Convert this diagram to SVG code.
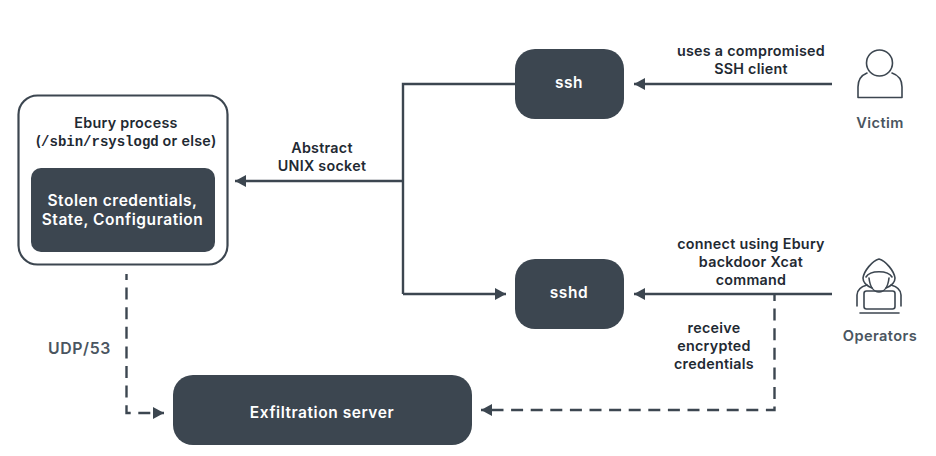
<svg xmlns="http://www.w3.org/2000/svg" width="936" height="456" viewBox="0 0 936 456">
<style>
text{font-family:"Inter","Noto Sans","Liberation Sans",sans-serif;font-weight:600;font-size:14.300px;letter-spacing:.28px;fill:#1f2a33;text-anchor:middle}
.box{fill:#3c4650}
.w{fill:#fff;font-size:15.500px;letter-spacing:.55px}
.g{fill:#4a5560;font-size:14.600px;letter-spacing:.4px}
.u{fill:#4a5560;font-size:15.800px;letter-spacing:.65px}
.m{font-family:"Liberation Mono",monospace;font-weight:700;font-size:14px;letter-spacing:0}
.c{fill:none;stroke:#3c4650;stroke-width:2.400}
.d{stroke-dasharray:12 7.600;stroke-dashoffset:6}
.i{fill:none;stroke:#3c4650;stroke-width:1.600;stroke-linejoin:round;stroke-linecap:round}
</style>
<defs>
<marker id="a" markerUnits="userSpaceOnUse" markerWidth="12" markerHeight="14" refX="11" refY="6" orient="auto"><path d="M0 0L11 6L0 12Z" fill="#3c4650"/></marker>
</defs>
<rect width="936" height="456" fill="#fff"/>
<g id="connectors">
<path class="c" marker-end="url(#a)" d="M832 84H634"/>
<path class="c" d="M515 84H403V294"/>
<path class="c" marker-end="url(#a)" d="M403 181H235"/>
<path class="c" marker-end="url(#a)" d="M403 294H506"/>
<path class="c" marker-end="url(#a)" d="M832 294H634"/>
<path class="c d" marker-end="url(#a)" d="M774.500 295V410H481"/>
<path class="c d" marker-end="url(#a)" d="M126.500 274V413H164"/>
</g>
<g id="ebury">
<rect x="18.500" y="95.500" width="209" height="169" rx="19" fill="#fff" stroke="#3c4650" stroke-width="2.200"/>
<text x="126" y="128">Ebury process</text>
<text x="126" y="145.500"><tspan>(</tspan><tspan class="m">/sbin/rsyslogd</tspan><tspan> or else)</tspan></text>
</g>
<g id="store">
<rect x="31" y="168" width="184" height="84" rx="10" class="box"/>
<text class="w"><tspan x="122.500" y="206">Stolen credentials,</tspan><tspan x="122.500" y="225">State, Configuration</tspan></text>
</g>
<g id="ssh"><rect x="515" y="49" width="109" height="70" rx="20" class="box"/><text class="w" x="569" y="88">ssh</text></g>
<g id="sshd"><rect x="515" y="259" width="109" height="70" rx="20" class="box"/><text class="w" x="569" y="298">sshd</text></g>
<g id="exfil"><rect x="173" y="375" width="299" height="70" rx="20" class="box"/><text class="w" x="322" y="418">Exfiltration server</text></g>
<g id="victim">
<circle cx="879.500" cy="63" r="13" class="i"/>
<path class="i" d="M867 73C862 75 858 80 858 87V97.500H902V87C902 80 898 75 892 73"/>
<text class="g" x="880" y="128">Victim</text>
</g>
<g id="operators">
<path class="i" d="M872 288C867 286 863 283 863 278C864 271 872 261 879 259C886 261 894 271 895 278C895 283 891 286 886 288"/>
<path class="i" d="M866 277C870 270 888 270 892 277M869 278C870 287 874 292 879 292C884 292 888 287 889 278"/>
<path class="i" d="M867 285C860 287 857 290 857 295V306M891 285C898 287 901 290 901 295V306"/>
<rect x="864" y="291" width="31" height="18" rx="2.500" class="i"/>
<path class="i" d="M860 313H899"/>
<text class="g" x="880" y="341">Operators</text>
</g>
<g id="labels">
<text><tspan x="751" y="56">uses a compromised</tspan><tspan x="751" y="74">SSH client</tspan></text>
<text><tspan x="322" y="153">Abstract</tspan><tspan x="322" y="171">UNIX socket</tspan></text>
<text><tspan x="751" y="249">connect using Ebury</tspan><tspan x="751" y="266.500">backdoor Xcat</tspan><tspan x="751" y="284.500">command</tspan></text>
<text><tspan x="714" y="333">receive</tspan><tspan x="714" y="351">encrypted</tspan><tspan x="714" y="368.500">credentials</tspan></text>
<text class="u" x="79.500" y="354">UDP/53</text>
</g>
</svg>
